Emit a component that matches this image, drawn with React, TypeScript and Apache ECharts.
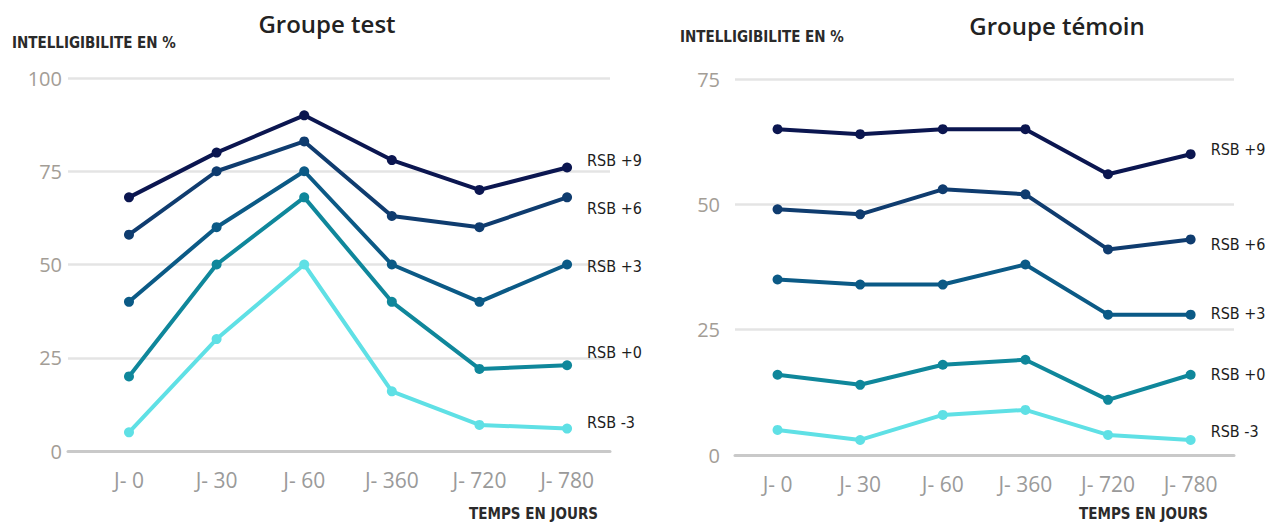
import React, { useEffect, useRef } from "react";
import * as echarts from "echarts";

const categories = ["J- 0", "J- 30", "J- 60", "J- 360", "J- 720", "J- 780"];
const seriesNames = ["RSB +9", "RSB +6", "RSB +3", "RSB +0", "RSB -3"];
const colors = ["#0b1650", "#0f3c6f", "#0b5a86", "#0f879b", "#5fe0e5"];

// Groupe test
const testP9 = [68, 80, 90, 78, 70, 76];
const testP6 = [58, 75, 83, 63, 60, 68];
const testP3 = [40, 60, 75, 50, 40, 50];
const testP0 = [20, 50, 68, 40, 22, 23];
const testM3 = [5, 30, 50, 16, 7, 6];
const testLabelDy = [-7, 11, 2, -13, -6];

// Groupe témoin
const ctrlP9 = [65, 64, 65, 65, 56, 60];
const ctrlP6 = [49, 48, 53, 52, 41, 43];
const ctrlP3 = [35, 34, 34, 38, 28, 28];
const ctrlP0 = [16, 14, 18, 19, 11, 16];
const ctrlM3 = [5, 3, 8, 9, 4, 3];
const ctrlLabelDy = [-5, 5, -1, 0, -8];

const testTicks = [0, 25, 50, 75, 100];
const ctrlTicks = [0, 25, 50, 75];

const FONT = "'Open Sans', 'Noto Sans', sans-serif";
const NARROW = "'Liberation Sans Narrow', 'DejaVu Sans Condensed', 'Open Sans', sans-serif";

function buildSeries(sets: number[][], axisIndex: number, dys: number[]) {
  return sets.map((vals, i) => ({
    type: "line",
    name: seriesNames[i],
    xAxisIndex: axisIndex,
    yAxisIndex: axisIndex,
    data: vals.map((v, k) => [k, v]),
    symbol: "circle",
    symbolSize: 10,
    lineStyle: { width: 4, color: colors[i] },
    itemStyle: { color: colors[i] },
    z: 10 - i,
    endLabel: {
      show: true,
      formatter: seriesNames[i],
      distance: 20,
      offset: [0, dys[i]],
      color: "#1d1d1d",
      fontSize: 16,
      fontFamily: NARROW,
    },
  }));
}

function xAxisCfg(gridIndex: number, min: number, max: number) {
  return {
    type: "value",
    gridIndex,
    min,
    max,
    axisLine: { show: true, lineStyle: { color: "#c9c9c9", width: 3 } },
    axisTick: { show: false },
    splitLine: { show: false },
    axisLabel: {
      customValues: [0, 1, 2, 3, 4, 5],
      formatter: (v: number) => categories[Math.round(v)] ?? "",
      color: "#9a9a9a",
      fontSize: 21,
      fontFamily: FONT,
      margin: 18,
    },
  };
}

function yAxisCfg(gridIndex: number, ticks: number[], margin: number) {
  return {
    type: "value",
    gridIndex,
    min: ticks[0],
    max: ticks[ticks.length - 1],
    interval: 25,
    axisLine: { show: false },
    axisTick: { show: false },
    splitLine: { show: true, lineStyle: { color: "#e4e4e4", width: 2.5 } },
    axisLabel: {
      color: "#a39d96",
      fontSize: 20,
      fontFamily: FONT,
      margin,
    },
  };
}

export default function App() {
  const ref = useRef<HTMLDivElement>(null);
  useEffect(() => {
    if (!ref.current) return;
    const chart = echarts.init(ref.current, null, { renderer: "svg" });
    chart.setOption({
      animation: false,
      backgroundColor: "#ffffff",
      title: [
        {
          text: "Groupe test",
          left: 322,
          top: 6,
          textAlign: "center",
          textStyle: { fontSize: 24, fontWeight: 600, color: "#222", fontFamily: FONT },
        },
        {
          text: "Groupe témoin",
          left: 1052,
          top: 8,
          textAlign: "center",
          textStyle: { fontSize: 24, fontWeight: 600, color: "#222", fontFamily: FONT },
        },
      ],
      grid: [
        { left: 68, top: 78, width: 542, height: 373 },
        { left: 735, top: 79, width: 499, height: 376 },
      ],
      xAxis: [xAxisCfg(0, -0.696, 5.49), xAxisCfg(1, -0.515, 5.525)],
      yAxis: [yAxisCfg(0, testTicks, 6), yAxisCfg(1, ctrlTicks, 15)],
      graphic: [
        {
          type: "text",
          left: 12,
          top: 35,
          style: { text: "INTELLIGIBILITE EN %", fontSize: 15, fontWeight: "bold", fill: "#2a2a2a", fontFamily: NARROW },
        },
        {
          type: "text",
          left: 680,
          top: 29,
          style: { text: "INTELLIGIBILITE EN %", fontSize: 15, fontWeight: "bold", fill: "#2a2a2a", fontFamily: NARROW },
        },
        {
          type: "text",
          right: 1280 - 598,
          top: 506,
          style: { text: "TEMPS EN JOURS", fontSize: 15, fontWeight: "bold", fill: "#2a2a2a", fontFamily: NARROW },
        },
        {
          type: "text",
          right: 1280 - 1208,
          top: 506,
          style: { text: "TEMPS EN JOURS", fontSize: 15, fontWeight: "bold", fill: "#2a2a2a", fontFamily: NARROW },
        },
      ],
      series: [
        ...buildSeries([testP9, testP6, testP3, testP0, testM3], 0, testLabelDy),
        ...buildSeries([ctrlP9, ctrlP6, ctrlP3, ctrlP0, ctrlM3], 1, ctrlLabelDy),
      ],
    });
    return () => chart.dispose();
  }, []);
  return (
    <div
      ref={ref}
      style={{ position: "fixed", left: 0, top: 0, width: 1280, height: 522 }}
    />
  );
}
